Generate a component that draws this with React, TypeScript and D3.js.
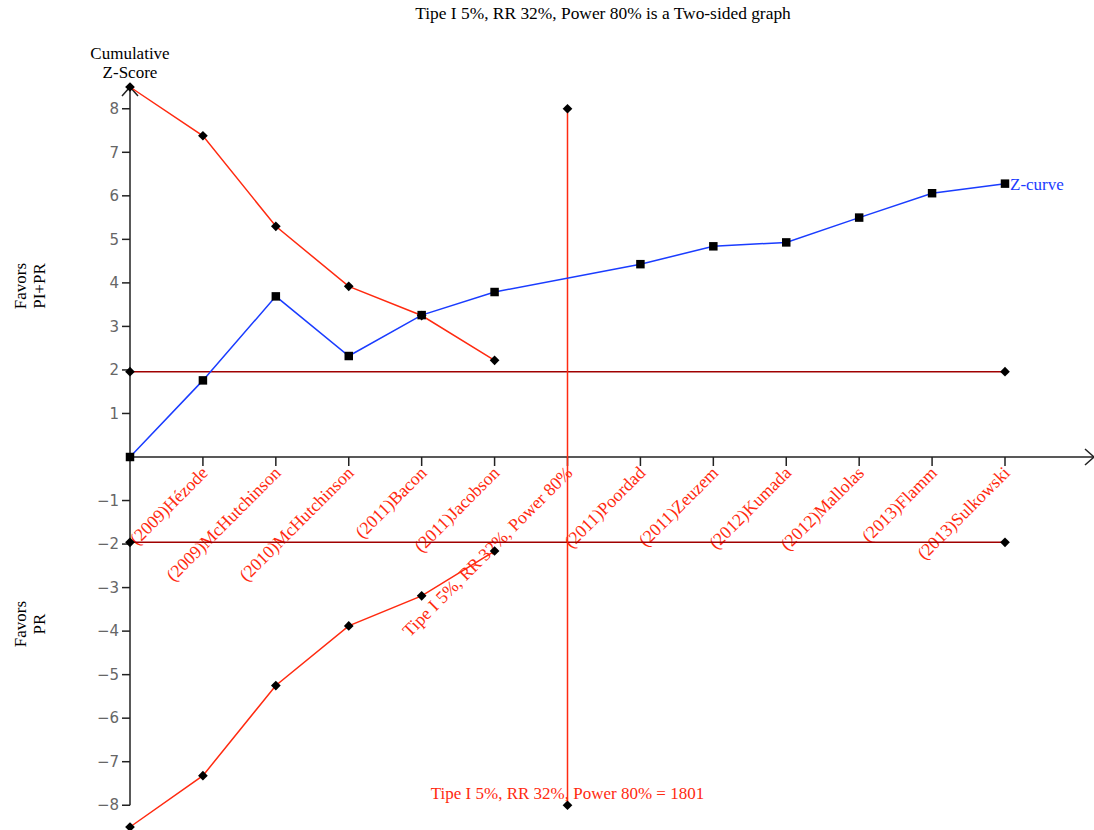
import React from "react";
import * as d3 from "d3";

const xLabels = ["", "(2009)Hézode", "(2009)McHutchinson", "(2010)McHutchinson", "(2011)Bacon", "(2011)Jacobson", "Tipe I 5%, RR 32%, Power 80%", "(2011)Poordad", "(2011)Zeuzem", "(2012)Kumada", "(2012)Mallolas", "(2013)Flamm", "(2013)Sulkowski"];
const zIndex = [0, 1, 2, 3, 4, 5, 7, 8, 9, 10, 11, 12];
const zValues = [0, 1.76, 3.69, 2.32, 3.26, 3.79, 4.43, 4.84, 4.93, 5.5, 6.06, 6.28];
const boundIndex = [0, 1, 2, 3, 4, 5];
const upperBound = [8.5, 7.38, 5.3, 3.92, 3.25, 2.22];
const lowerBound = [-8.5, -7.32, -5.25, -3.88, -3.19, -2.16];
const yTicks = [-8, -7, -6, -5, -4, -3, -2, -1, 1, 2, 3, 4, 5, 6, 7, 8];
const conventional = 1.96;
const risIndex = 6;
const risLimit = 8;

const W = 1094, H = 830;
const RED = "#ff2a10";
const BLUE = "#1a3cff";
const DARKRED = "#a00000";
const serif = "'Liberation Serif', 'Times New Roman', serif";
const FS = 17;

export default function App() {
  const x = d3.scaleLinear().domain([0, 12]).range([130, 1005]);
  const y = d3.scaleLinear().domain([-8.5, 8.5]).range([827, 87]);
  const line = d3.line<[number, number]>().x(d => x(d[0])).y(d => y(d[1]));
  const diamond = d3.symbol().type(d3.symbolDiamond2).size(60)() as string;
  const square = d3.symbol().type(d3.symbolSquare).size(72)() as string;

  const zPts: [number, number][] = zIndex.map((i, k) => [i, zValues[k]]);
  const upPts: [number, number][] = boundIndex.map((i, k) => [i, upperBound[k]]);
  const loPts: [number, number][] = boundIndex.map((i, k) => [i, lowerBound[k]]);

  return (
    <svg width={W} height={H} style={{ position: "absolute", left: 0, top: 0, background: "#fff" }}>
      <text x={603} y={19} textAnchor="middle" fontFamily={serif} fontSize={17.4} fill="#000">
        Tipe I 5%, RR 32%, Power 80% is a Two-sided graph
      </text>
      {/* Y title */}
      <text x={130} y={59} textAnchor="middle" fontFamily={serif} fontSize={FS}>Cumulative</text>
      <text x={130} y={78} textAnchor="middle" fontFamily={serif} fontSize={FS}>Z-Score</text>
      <g transform="translate(26,286) rotate(-90)">
        <text x={0} y={0} textAnchor="middle" fontFamily={serif} fontSize={FS}>Favors</text>
        <text x={0} y={19} textAnchor="middle" fontFamily={serif} fontSize={FS}>PI+PR</text>
      </g>
      <g transform="translate(26,624) rotate(-90)">
        <text x={0} y={0} textAnchor="middle" fontFamily={serif} fontSize={FS}>Favors</text>
        <text x={0} y={19} textAnchor="middle" fontFamily={serif} fontSize={FS}>PR</text>
      </g>

      {/* Y axis */}
      <line x1={x(0)} x2={x(0)} y1={y(8.5)} y2={y(-8)} stroke="#222" strokeWidth={1.5} />
      <path d={`M${x(0) - 8},${y(8.5) + 9}L${x(0)},${y(8.5)}L${x(0) + 8},${y(8.5) + 9}`} fill="none" stroke="#222" strokeWidth={1.5} />
      {yTicks.map(t => (
        <g key={t}>
          <line x1={x(0) - 8} x2={x(0)} y1={y(t)} y2={y(t)} stroke="#222" strokeWidth={1.5} />
          <text x={x(0) - 11} y={y(t)} dy="0.35em" textAnchor="end" fontFamily="'DejaVu Sans', sans-serif" fontSize={15} fill="#666">
            {t < 0 ? `\u2212${-t}` : t}
          </text>
        </g>
      ))}

      {/* X axis */}
      <line x1={x(0)} x2={W} y1={y(0)} y2={y(0)} stroke="#222" strokeWidth={1.5} />
      <path d={`M${W - 9},${y(0) - 8}L${W},${y(0)}L${W - 9},${y(0) + 8}`} fill="none" stroke="#222" strokeWidth={1.5} />
      {xLabels.map((lab, i) => i === 0 ? null : (
        <g key={i}>
          <line x1={x(i)} x2={x(i)} y1={y(0)} y2={y(0) + 9} stroke="#222" strokeWidth={1.5} />
          <text transform={`translate(${x(i) + 6},${y(0) + 17}) rotate(-45)`} textAnchor="end" fontFamily={serif} fontSize={17.8} fill={RED}>
            {lab}
          </text>
        </g>
      ))}

      {/* conventional boundaries */}
      {[conventional, -conventional].map(v => (
        <g key={v}>
          <line x1={x(0)} x2={x(12)} y1={y(v)} y2={y(v)} stroke={DARKRED} strokeWidth={1.5} />
          <path d={diamond} transform={`translate(${x(0)},${y(v)})`} fill="#000" />
          <path d={diamond} transform={`translate(${x(12)},${y(v)})`} fill="#000" />
        </g>
      ))}

      {/* RIS vertical line */}
      <line x1={x(risIndex)} x2={x(risIndex)} y1={y(risLimit)} y2={y(-risLimit)} stroke={RED} strokeWidth={1.5} />
      <path d={diamond} transform={`translate(${x(risIndex)},${y(risLimit)})`} fill="#000" />
      <path d={diamond} transform={`translate(${x(risIndex)},${y(-risLimit)})`} fill="#000" />
      <text x={x(risIndex)} y={799} textAnchor="middle" fontFamily={serif} fontSize={FS} fill={RED}>
        Tipe I 5%, RR 32%, Power 80% = 1801
      </text>

      {/* monitoring boundaries */}
      <path d={line(upPts) as string} fill="none" stroke={RED} strokeWidth={1.5} />
      <path d={line(loPts) as string} fill="none" stroke={RED} strokeWidth={1.5} />
      {upPts.concat(loPts).map((p, k) => (
        <path key={k} d={diamond} transform={`translate(${x(p[0])},${y(p[1])})`} fill="#000" />
      ))}

      {/* Z-curve */}
      <path d={line(zPts) as string} fill="none" stroke={BLUE} strokeWidth={1.5} />
      {zPts.map((p, k) => (
        <path key={k} d={square} transform={`translate(${x(p[0])},${y(p[1])})`} fill="#000" />
      ))}
      <text x={x(12) + 5} y={y(zValues[zValues.length - 1])} dy="0.35em" fontFamily={serif} fontSize={FS} fill={BLUE}>
        Z-curve
      </text>
    </svg>
  );
}
